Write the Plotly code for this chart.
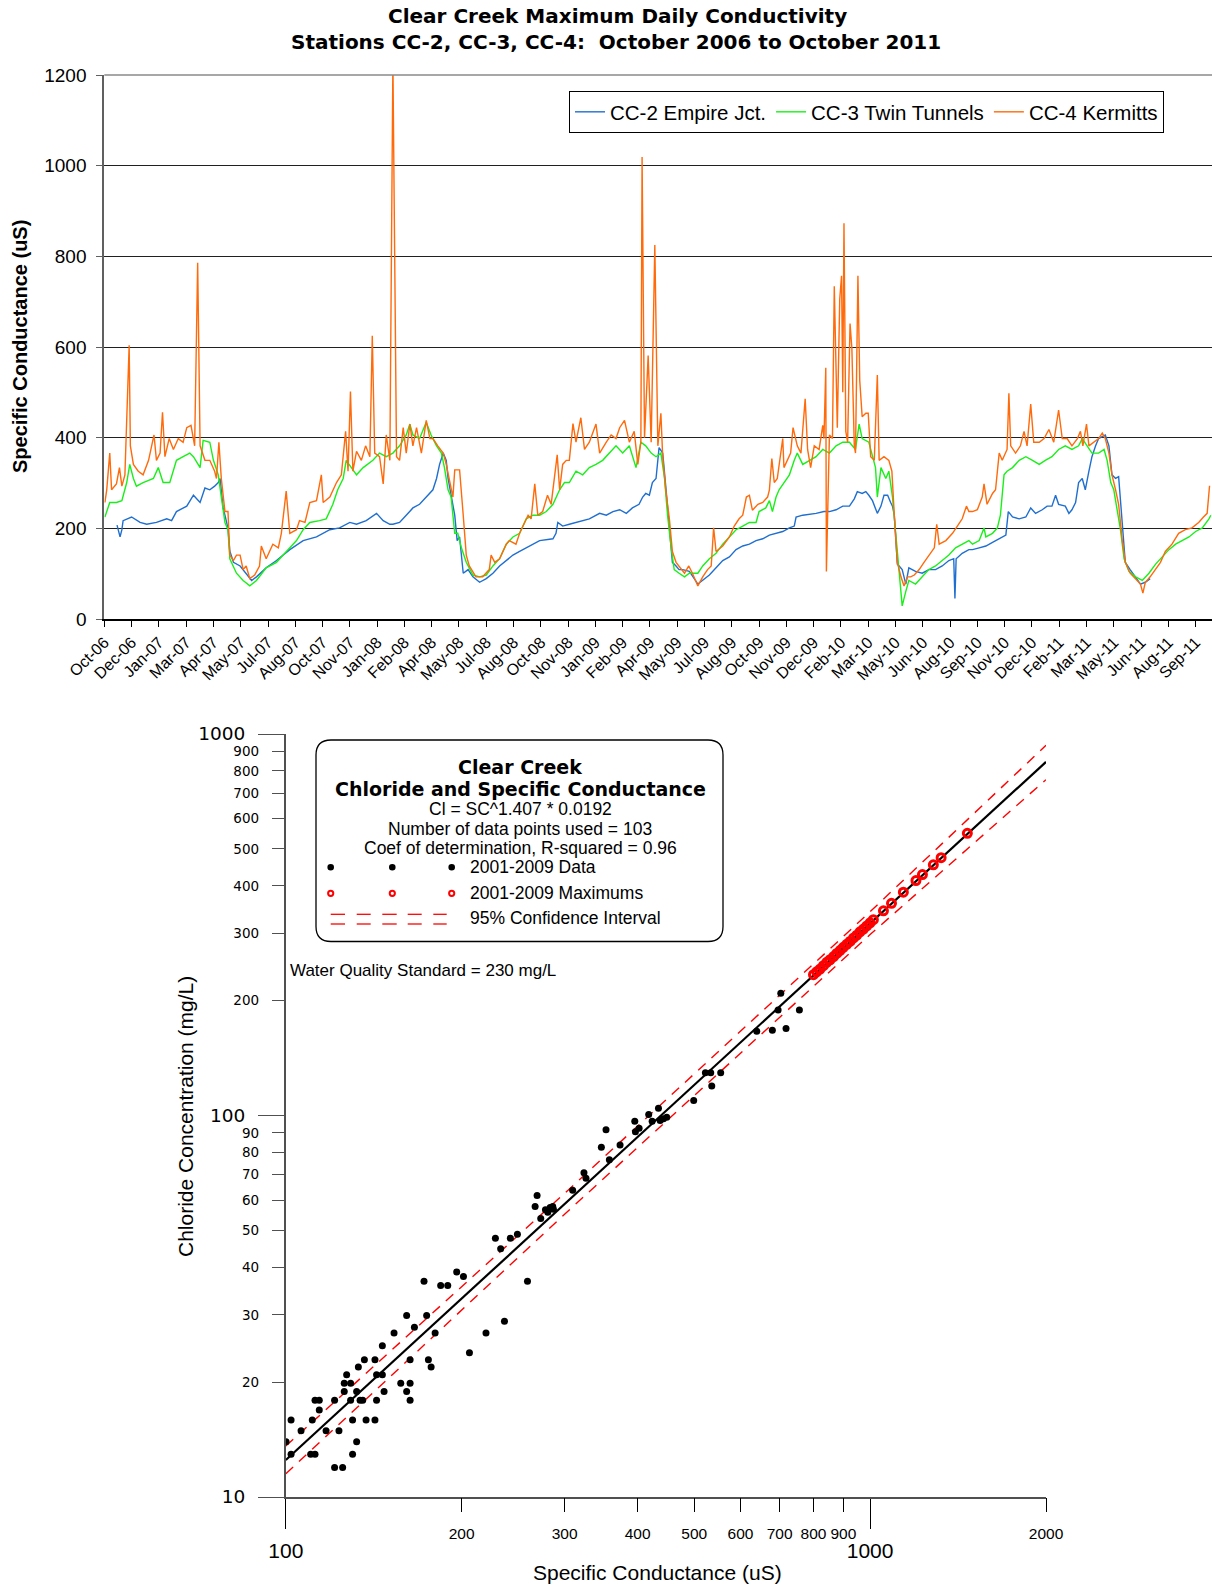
import pandas as pd
import plotly.graph_objects as go

W, H = 1212, 1587


def px(X):
    return X / W


def py(Y):
    return 1 - Y / H


# ---------------- top chart data (day offset from start date, uS) ----------------
START = pd.Timestamp("2006-10-17")
END = pd.Timestamp("2011-10-18")

cc2 = [(21, 207), (26, 181), (29, 197), (31, 217), (45, 225), (59, 213), (70, 209), (86, 213), (103, 221),
       (111, 217), (119, 237), (136, 249), (147, 273), (158, 257), (166, 289), (174, 285), (182, 293), (188, 301),
       (191, 310), (196, 245), (199, 229), (204, 200), (207, 150), (213, 125), (224, 117), (234, 101), (243, 85),
       (251, 93), (267, 113), (284, 129), (306, 153), (328, 173), (350, 181), (372, 197), (388, 201), (405, 213),
       (416, 209), (432, 217), (449, 233), (460, 217), (471, 209),
       (476, 209), (487, 213), (498, 229), (509, 245), (520, 253), (531, 269), (542, 285), (548, 310), (553, 341),
       (559, 366), (564, 350), (567, 310), (572, 269), (578, 229), (582, 173), (586, 181), (592, 101), (600, 109),
       (608, 93), (619, 81), (630, 89), (641, 101), (652, 117), (663, 129), (674, 141), (685, 149), (696, 157),
       (707, 165), (718, 173), (740, 177), (745, 189), (748, 213), (756, 205), (767, 209), (778, 213), (789, 217),
       (800, 221), (817, 233), (828, 229), (839, 237), (850, 241), (861, 233), (871, 245), (882, 253), (888, 269),
       (893, 277), (899, 273), (904, 301), (910, 310), (915, 378), (921, 366), (926, 293), (932, 205), (937, 125),
       (943, 117), (948, 109),
       (954, 109), (965, 105), (979, 77), (987, 85), (998, 97), (1009, 113), (1020, 129), (1031, 137), (1042, 153),
       (1053, 161), (1064, 165), (1075, 173), (1086, 177), (1097, 185), (1119, 193), (1130, 201), (1138, 205),
       (1141, 225), (1152, 229), (1174, 233), (1187, 237), (1196, 237), (1207, 241), (1218, 249), (1229, 249),
       (1237, 265), (1242, 281), (1250, 277), (1256, 281), (1261, 273), (1267, 261), (1275, 233), (1281, 249),
       (1286, 273), (1292, 273), (1297, 257), (1300, 249), (1303, 229), (1305, 173), (1308, 121), (1311, 117),
       (1316, 109), (1322, 77), (1327, 113), (1338, 105), (1349, 101), (1360, 109), (1371, 109), (1382, 117),
       (1393, 129), (1401, 133), (1403, 45), (1405, 133), (1415, 145), (1426, 153),
       (1432, 153), (1443, 157), (1454, 161), (1465, 169), (1476, 177), (1487, 185), (1491, 237), (1498, 225),
       (1509, 221), (1520, 225), (1528, 245), (1536, 233), (1547, 241), (1555, 249), (1563, 249), (1569, 273),
       (1574, 253), (1585, 249), (1591, 233), (1596, 241), (1602, 257), (1607, 301), (1613, 310), (1618, 285),
       (1624, 326), (1629, 358), (1635, 382), (1640, 398), (1651, 406), (1657, 382), (1662, 318), (1668, 310),
       (1673, 314), (1679, 221), (1684, 125), (1692, 109), (1701, 93), (1709, 77), (1717, 81), (1725, 89)]

cc3 = [(1, 225), (9, 257), (20, 257), (29, 261), (37, 301), (42, 341), (48, 310), (53, 293), (64, 301), (81, 310),
       (89, 334), (97, 301), (108, 301), (119, 350), (130, 358), (141, 366), (147, 358), (158, 334), (163, 394),
       (174, 390), (180, 350), (188, 318), (193, 269), (199, 213), (204, 197), (207, 133), (218, 101), (229, 85),
       (240, 73), (251, 85), (267, 113), (284, 125), (295, 141), (306, 157), (317, 173), (328, 197), (339, 213),
       (355, 217), (366, 221), (377, 253), (385, 285), (394, 310), (399, 350), (416, 318), (427, 334), (443, 350),
       (454, 366), (465, 358),
       (476, 366), (487, 382), (498, 406), (504, 430), (509, 406), (520, 398), (531, 434), (539, 406), (548, 382),
       (556, 366), (561, 334), (567, 285), (572, 269), (578, 189), (583, 189), (589, 157), (597, 125), (608, 97),
       (619, 93), (630, 97), (641, 117), (652, 133), (663, 165), (674, 181), (685, 189), (696, 221), (707, 229),
       (718, 229), (729, 237), (740, 253), (751, 285), (759, 301), (767, 301), (778, 326), (789, 318), (800, 334),
       (811, 341), (822, 350), (833, 366), (844, 382), (855, 366), (866, 382), (877, 334), (885, 390), (893, 382),
       (902, 366), (910, 358), (918, 366), (924, 310), (929, 229), (935, 157), (940, 109), (948, 101),
       (957, 93), (965, 101), (979, 101), (987, 117), (998, 133), (1009, 145), (1020, 165), (1031, 181), (1042, 197),
       (1053, 205), (1064, 213), (1075, 213), (1080, 237), (1091, 245), (1097, 261), (1102, 237), (1108, 269),
       (1113, 285), (1121, 301), (1130, 318), (1138, 350), (1143, 366), (1152, 341), (1163, 350), (1174, 358),
       (1185, 374), (1196, 366), (1207, 382), (1218, 390), (1229, 390), (1239, 374), (1245, 430), (1250, 398),
       (1261, 390), (1267, 358), (1272, 334), (1275, 269), (1281, 334), (1289, 310), (1294, 326), (1300, 269),
       (1305, 189), (1311, 109), (1316, 29), (1322, 61), (1327, 85), (1338, 77), (1349, 93), (1360, 109),
       (1371, 117), (1382, 129), (1393, 141), (1404, 157), (1415, 165), (1426, 173),
       (1432, 165), (1443, 173), (1451, 201), (1454, 181), (1465, 189), (1473, 201), (1478, 229), (1484, 318),
       (1489, 326), (1498, 334), (1509, 350), (1520, 358), (1531, 350), (1542, 341), (1552, 350), (1563, 358),
       (1574, 374), (1585, 382), (1596, 374), (1607, 382), (1613, 398), (1621, 382), (1629, 366), (1640, 366),
       (1649, 374), (1654, 350), (1660, 301), (1665, 285), (1671, 237), (1676, 197), (1682, 133), (1690, 105),
       (1701, 93), (1712, 85), (1723, 101), (1734, 121), (1745, 137), (1756, 153), (1767, 165), (1778, 173),
       (1789, 181), (1800, 193), (1811, 201), (1822, 221), (1825, 229)]

cc4 = [(1, 257), (4, 285), (9, 366), (12, 285), (20, 298), (25, 334), (29, 293), (34, 318), (41, 604), (43, 382),
       (48, 341), (56, 326), (64, 318), (73, 350), (82, 406), (86, 350), (92, 366), (96, 456), (100, 358),
       (107, 398), (114, 374), (122, 398), (130, 390), (136, 422), (143, 427), (149, 382), (154, 786), (158, 382),
       (166, 350), (174, 350), (182, 326), (185, 310), (189, 390), (193, 310), (199, 237), (204, 237), (207, 141),
       (213, 129), (218, 141), (224, 141), (229, 109), (234, 117), (240, 89), (248, 97), (256, 117), (259, 161),
       (267, 133), (278, 165), (287, 157), (292, 189), (300, 282), (306, 189), (317, 197), (322, 217), (331, 213),
       (339, 257), (350, 261), (358, 318), (361, 257), (372, 269), (383, 301), (391, 318), (398, 414), (402, 326),
       (406, 502), (410, 326), (416, 370), (424, 350), (431, 382), (438, 358), (442, 625), (446, 366), (454, 358),
       (460, 298), (465, 406),
       (471, 350), (476, 1230), (482, 358), (487, 350), (493, 422), (498, 366), (504, 430), (509, 382), (515, 422),
       (523, 366), (531, 438), (537, 398), (542, 398), (550, 382), (559, 366), (564, 341), (570, 301), (575, 269),
       (578, 329), (586, 329), (592, 229), (597, 141), (602, 117), (613, 93), (624, 93), (635, 109), (638, 141),
       (644, 125), (652, 133), (663, 165), (668, 173), (679, 165), (685, 189), (693, 213), (699, 229), (704, 221),
       (710, 298), (715, 229), (723, 237), (731, 273), (737, 253), (747, 362), (751, 285), (756, 341), (762, 350),
       (767, 350), (773, 431), (778, 390), (786, 444), (792, 374), (800, 390), (811, 430), (817, 366), (828, 390),
       (836, 406), (844, 398), (850, 422), (858, 438), (866, 390), (874, 414), (880, 341), (885, 390), (887, 1019),
       (891, 400), (897, 581), (902, 390), (908, 825), (913, 382), (918, 454), (921, 358), (926, 285), (932, 221),
       (937, 149), (943, 125), (948, 117),
       (957, 101), (964, 117), (970, 101), (979, 73), (987, 93), (995, 109), (1001, 117), (1005, 201), (1009, 149),
       (1020, 161), (1031, 181), (1039, 205), (1047, 221), (1053, 229), (1059, 269), (1064, 273), (1069, 240),
       (1078, 253), (1086, 257), (1094, 269), (1097, 285), (1101, 354), (1105, 301), (1110, 310), (1119, 398),
       (1121, 334), (1127, 350), (1132, 366), (1136, 422), (1143, 382), (1149, 366), (1156, 486), (1160, 374),
       (1165, 334), (1171, 382), (1179, 374), (1185, 427), (1187, 398), (1190, 554), (1191, 105), (1196, 406),
       (1201, 398), (1204, 734), (1209, 422), (1213, 706), (1216, 757), (1218, 500), (1220, 873), (1223, 414),
       (1226, 390), (1230, 652), (1233, 598), (1237, 382), (1239, 366), (1243, 757), (1246, 526), (1250, 446),
       (1256, 454), (1260, 454), (1264, 358), (1270, 350), (1275, 538), (1278, 350), (1286, 358), (1294, 350),
       (1299, 326), (1303, 229), (1308, 125), (1314, 93), (1319, 73), (1325, 93), (1330, 93), (1336, 97),
       (1344, 109), (1352, 125), (1360, 141), (1369, 157), (1373, 209), (1377, 165), (1388, 173), (1399, 189),
       (1407, 205), (1415, 221), (1422, 249), (1426, 237),
       (1432, 237), (1440, 241), (1448, 269), (1451, 298), (1456, 253), (1465, 277), (1470, 285), (1476, 366),
       (1481, 350), (1489, 374), (1492, 498), (1495, 382), (1503, 366), (1511, 382), (1517, 414), (1522, 382),
       (1528, 474), (1533, 390), (1542, 390), (1550, 398), (1558, 418), (1566, 390), (1574, 461), (1580, 398),
       (1588, 398), (1596, 382), (1605, 398), (1610, 414), (1614, 382), (1620, 430), (1624, 382), (1632, 390),
       (1640, 398), (1646, 410), (1651, 398), (1657, 366), (1662, 318), (1668, 285), (1673, 253), (1679, 173),
       (1684, 125), (1692, 101), (1701, 89), (1709, 77), (1713, 57), (1717, 81), (1725, 93), (1734, 109),
       (1742, 125), (1750, 149), (1761, 165), (1772, 189), (1783, 197), (1794, 201), (1805, 213), (1813, 225),
       (1819, 233), (1823, 294)]

series_names = ["CC-2 Empire Jct.", "CC-3 Twin Tunnels", "CC-4 Kermitts"]
series_colors = ["#1F6FD0", "#19F019", "#FF6A0A"]

# ---------------- bottom chart data ----------------
data_sc = [100.1, 102.1, 102.1, 106.2, 111.0, 110.3, 112.2, 112.2, 114.1, 114.1, 117.2, 121.2, 121.2, 123.3,
           125.1, 125.9, 127.1, 125.9, 129.1, 129.1, 130.1, 130.1, 132.2, 132.2, 133.1, 134.0, 135.4, 136.3,
           137.2, 142.1, 142.1, 143.0, 143.0, 146.3, 146.3, 147.3, 153.2, 157.3, 161.0, 161.0, 163.2, 163.2,
           163.2, 166.0, 172.4, 174.2, 175.4, 177.3, 180.1, 184.1, 189.3, 196.1, 201.4, 206.2, 220.1, 236.7, 259.2,
           228.4, 233.2, 242.3, 249.1, 267.1, 269.2, 273.1, 278.2, 280.8, 283.4, 286.3, 287.1, 309.7, 323.8,
           326.4, 346.8, 353.2, 357.9, 373.3, 395.6, 396.6, 402.4, 417.9, 423.6, 434.3, 437.2, 442.9, 448.7,
           499.0, 522.5, 533.6, 535.8, 555.0,
           703.3, 695.9, 756.8, 639.7, 680.3, 718.0]
data_cl = [13.95, 15.91, 12.95, 14.92, 15.91, 12.95, 12.95, 17.93, 17.93, 16.91, 14.92, 17.93, 11.95, 14.92,
           11.95, 18.9, 20.9, 19.87, 19.87, 17.93, 15.91, 12.95, 18.9, 13.95, 21.9, 17.93, 17.93, 22.9,
           15.91, 22.9, 15.91, 20.9, 17.93, 20.9, 24.9, 18.9, 26.9, 19.87, 29.9, 18.9, 22.9, 19.87,
           17.93, 27.85, 36.8, 29.9, 22.9, 21.9, 26.9, 35.85, 35.85, 38.86, 37.85, 23.9, 26.9, 28.9, 36.8,
           47.7, 44.75, 47.7, 48.8, 57.7, 61.7, 53.7, 56.6, 55.8, 57.4, 57.7, 56.8, 63.7, 70.8,
           68.5, 82.5, 91.7, 76.6, 83.7, 96.6, 90.6, 92.6, 100.6, 96.6, 104.5, 97.0, 98.0, 99.0,
           109.5, 129.5, 129.5, 119.5, 129.5,
           209.0, 189.0, 189.0, 166.4, 167.4, 169.1]

max_sc = [800, 810, 821, 832, 843, 854, 866, 877, 889, 900, 912, 924, 937, 949, 961, 974, 987, 1000, 1013,
          1054, 1088, 1140, 1198, 1229, 1283, 1323, 1467]
max_cl = [234, 238, 242, 247, 252, 256, 261, 266, 271, 276, 281, 286, 292, 297, 303, 308, 314, 320, 326,
          344, 360, 385, 413, 428, 454, 474, 549]

fit_sc = [100, 2000]
fit_cl = [12.5, 845]

ci_sc = [100, 300, 1000, 2000]
ci_upper = [13.6, 62.5, 342, 934]
ci_lower = [11.5, 55.1, 298, 759]

x_major = [100, 1000]
x_minor = [200, 300, 400, 500, 600, 700, 800, 900, 2000]
y_major = [10, 100, 1000]
y_minor = [20, 30, 40, 50, 60, 70, 80, 90, 200, 300, 400, 500, 600, 700, 800, 900]

ARIAL = "Liberation Sans, Arial, sans-serif"
VERD = "DejaVu Sans, Verdana, sans-serif"

fig = go.Figure()

for pts, name, color in zip([cc2, cc3, cc4], series_names, series_colors):
    days = [d for d, _ in pts]
    vals = [v for _, v in pts]
    dates = [START + pd.Timedelta(days=d) for d in days]
    fig.add_trace(go.Scatter(x=dates, y=vals, mode="lines", name=name,
                             line=dict(color=color, width=1.4), xaxis="x", yaxis="y"))

# bottom chart traces
for ci in (ci_upper, ci_lower):
    fig.add_trace(go.Scatter(x=ci_sc, y=ci, mode="lines", showlegend=False, xaxis="x2", yaxis="y2",
                             line=dict(color="#FF0000", width=1.4, dash="10px,8px")))
fig.add_trace(go.Scatter(x=data_sc, y=data_cl, mode="markers", showlegend=False, xaxis="x2", yaxis="y2",
                         marker=dict(color="black", size=7, line=dict(width=0))))
fig.add_trace(go.Scatter(x=fit_sc, y=fit_cl, mode="lines", showlegend=False, xaxis="x2", yaxis="y2",
                         line=dict(color="black", width=2.2)))
fig.add_trace(go.Scatter(x=max_sc, y=max_cl, mode="markers", showlegend=False, xaxis="x2", yaxis="y2",
                         marker=dict(symbol="circle-open", color="#FF0000", size=8, line=dict(width=3))))
# carriers for the minor-label axes
fig.add_trace(go.Scatter(x=[150], y=[20], mode="markers", showlegend=False, xaxis="x3", yaxis="y2",
                         marker=dict(opacity=0), hoverinfo="skip"))
fig.add_trace(go.Scatter(x=[150], y=[20], mode="markers", showlegend=False, xaxis="x2", yaxis="y3",
                         marker=dict(opacity=0), hoverinfo="skip"))

xd2 = [px(285.8), px(1046)]
yd2 = [py(1497), py(734)]

fig.update_layout(
    template="none",
    width=W, height=H, margin=dict(l=0, r=0, t=0, b=0, pad=0, autoexpand=False),
    paper_bgcolor="white", plot_bgcolor="white",
    showlegend=True, hovermode="closest",
    legend=dict(orientation="h", x=px(569), y=py(91), xanchor="left", yanchor="top",
                bordercolor="black", borderwidth=1, bgcolor="white",
                font=dict(family=ARIAL, size=20.5, color="black"), itemwidth=30),
    xaxis=dict(type="date", domain=[px(104.3), 1.0], anchor="y", automargin=False,
               range=[START.strftime("%Y-%m-%d"), END.strftime("%Y-%m-%d")],
               tick0=START.strftime("%Y-%m-%d"), dtick=45 * 86400000, tickformat="%b-%y",
               tickangle=-45, ticks="outside", ticklen=6, tickcolor="black",
               showline=True, linecolor="black", linewidth=1.5, showgrid=False, zeroline=False,
               tickfont=dict(family=ARIAL, size=16, color="black")),
    yaxis=dict(domain=[py(619), py(75)], anchor="x", range=[0, 1200], tick0=0, dtick=200, automargin=False,
               showgrid=True, gridcolor="#202020", gridwidth=1, zeroline=False,
               showline=True, linecolor="#606060", linewidth=2, ticks="outside", ticklen=6,
               tickcolor="#606060", ticklabelstandoff=6,
               tickfont=dict(family=ARIAL, size=19, color="black")),
    xaxis2=dict(type="log", domain=xd2, anchor="y2", range=[2, 3.30103], automargin=False,
                tickmode="array", tickvals=x_major, ticktext=[str(v) for v in x_major], tickangle=0,
                ticks="outside", ticklen=30, tickcolor="black", ticklabelstandoff=4,
                showline=True, linecolor="#505050", linewidth=1.5, showgrid=False, zeroline=False,
                tickfont=dict(family=ARIAL, size=21, color="black")),
    xaxis3=dict(type="log", overlaying="x2", anchor="y2", range=[2, 3.30103], automargin=False,
                tickmode="array", tickvals=x_minor, ticktext=[str(v) for v in x_minor], tickangle=0,
                ticks="outside", ticklen=14, tickcolor="black", ticklabelstandoff=8,
                showline=False, showgrid=False, zeroline=False, side="bottom",
                tickfont=dict(family=ARIAL, size=15.5, color="black")),
    yaxis2=dict(type="log", domain=yd2, anchor="x2", range=[1, 3], automargin=False,
                tickmode="array", tickvals=y_major, ticktext=[str(v) for v in y_major],
                ticks="outside", ticklen=26, tickcolor="#505050", ticklabelstandoff=9,
                showline=True, linecolor="#505050", linewidth=1.5, showgrid=False, zeroline=False,
                tickfont=dict(family=VERD, size=18.5, color="black")),
    yaxis3=dict(type="log", overlaying="y2", anchor="x2", range=[1, 3], automargin=False,
                tickmode="array", tickvals=y_minor, ticktext=[str(v) for v in y_minor],
                ticks="outside", ticklen=13, tickcolor="#505050", ticklabelstandoff=10,
                showline=False, showgrid=False, zeroline=False, side="left",
                tickfont=dict(family=VERD, size=13.5, color="black")),
)

annotations = []


def text(X, Y, s, size, family=ARIAL, bold=False, anchor="center", angle=0):
    annotations.append(dict(x=px(X), y=py(Y), xref="paper", yref="paper", text=("<b>%s</b>" % s) if bold else s,
                            showarrow=False, xanchor=anchor, yanchor="middle", textangle=angle,
                            font=dict(family=family, size=size, color="black")))


text(617, 16.5, "Clear Creek Maximum Daily Conductivity", 20, VERD, True)
text(616, 42.5, "Stations CC-2, CC-3, CC-4:  October 2006 to October 2011", 20, VERD, True)
text(20, 347, "Specific Conductance (uS)", 20, ARIAL, True, angle=-90)

text(520, 766.7, "Clear Creek", 19, VERD, True)
text(520, 789, "Chloride and Specific Conductance", 19, VERD, True)
text(520, 809.3, "Cl = SC^1.407 * 0.0192", 17.5)
text(520, 829, "Number of data points used = 103", 17.5)
text(520, 848.3, "Coef of determination, R-squared = 0.96", 17.5)
text(467.7, 867.3, "2001-2009 Data", 17.5, anchor="left")
text(467.7, 893.3, "2001-2009 Maximums", 17.5, anchor="left")
text(467.7, 918.3, "95% Confidence Interval", 17.5, anchor="left")
text(287.5, 970, "Water Quality Standard = 230 mg/L", 17, anchor="left")
text(185, 1116, "Chloride Concentration (mg/L)", 21, angle=-90)
text(657, 1572, "Specific Conductance (uS)", 21)

shapes = []
# top border of the upper plot (grid line at the axis maximum)
shapes.append(dict(type="line", xref="x domain", yref="y domain", x0=0, x1=1, y0=1, y1=1,
                   line=dict(color="#8a8a8a", width=1.5)))
# rounded legend box
x0, x1 = px(316), px(723)
yb, yt = py(941.5), py(740)
rx, ry = 15 / W, 15 / H
path = (f"M {x0 + rx},{yt} L {x1 - rx},{yt} Q {x1},{yt} {x1},{yt - ry} L {x1},{yb + ry} "
        f"Q {x1},{yb} {x1 - rx},{yb} L {x0 + rx},{yb} Q {x0},{yb} {x0},{yb + ry} "
        f"L {x0},{yt - ry} Q {x0},{yt} {x0 + rx},{yt} Z")
shapes.append(dict(type="path", path=path, xref="paper", yref="paper",
                   line=dict(color="black", width=1.3), fillcolor="rgba(255,255,255,0)", layer="above"))
for Xc in (330.7, 392.3, 451.7):
    shapes.append(dict(type="circle", xref="paper", yref="paper", xsizemode="pixel", ysizemode="pixel",
                       xanchor=px(Xc), yanchor=py(867.3), x0=-3.3, x1=3.3, y0=-3.3, y1=3.3,
                       fillcolor="black", line=dict(color="black", width=0)))
    shapes.append(dict(type="circle", xref="paper", yref="paper", xsizemode="pixel", ysizemode="pixel",
                       xanchor=px(Xc), yanchor=py(893.3), x0=-2.6, x1=2.6, y0=-2.6, y1=2.6,
                       fillcolor="white", line=dict(color="#FF0000", width=2)))
for a, b in [(330.7, 345), (356.7, 370.7), (382.3, 396.7), (407.7, 421.7), (433.3, 446.7)]:
    for Yl in (914.3, 924):
        shapes.append(dict(type="line", xref="paper", yref="paper", x0=px(a), x1=px(b), y0=py(Yl), y1=py(Yl),
                           line=dict(color="#FF0000", width=1.3)))

fig.update_layout(annotations=annotations, shapes=shapes)

fig.write_html("out.html", config={"displayModeBar": False},
               post_script="document.body.style.margin='0';document.body.style.overflow='hidden';")
